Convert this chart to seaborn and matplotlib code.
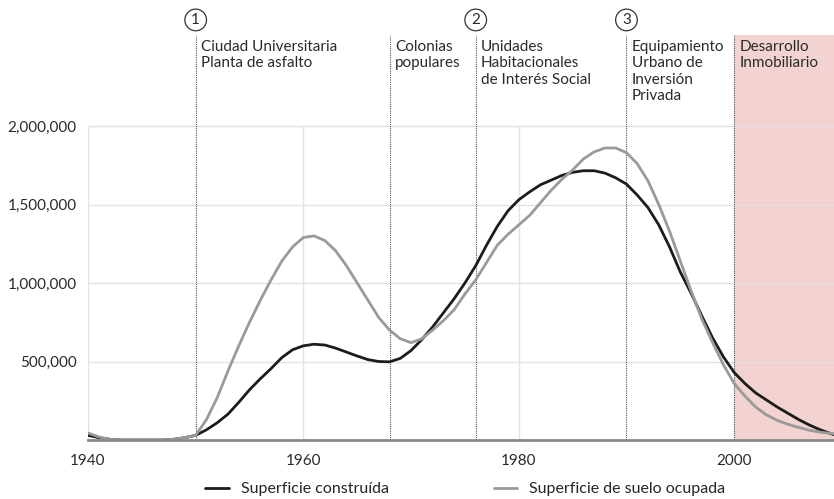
import numpy as np
import pandas as pd
import matplotlib
matplotlib.use("Agg")
import matplotlib.pyplot as plt
import seaborn as sns

years = list(range(1940, 2011))
construida = [30, 15, 5, 0, 0, 0, 0, 0, 5, 15,
              30, 65, 110, 165, 240, 320, 390, 455, 525, 575,
              600, 610, 605, 585, 560, 535, 512, 500, 498, 520,
              570, 640, 720, 810, 900, 1000, 1110, 1240, 1360, 1460,
              1530, 1580, 1625, 1655, 1685, 1705, 1715, 1715, 1700, 1670,
              1630, 1560, 1480, 1370, 1230, 1070, 935, 790, 650, 530,
              430, 360, 300, 255, 210, 170, 130, 95, 65, 40, 20]
suelo = [45, 20, 5, 0, 0, 0, 0, 0, 5, 15,
         30, 130, 270, 440, 600, 750, 890, 1020, 1140, 1230,
         1290, 1300, 1270, 1205, 1110, 1000, 890, 780, 700, 645,
         620, 645, 700, 760, 830, 930, 1020, 1130, 1240, 1310,
         1370, 1430, 1510, 1590, 1660, 1720, 1790, 1835, 1860, 1860,
         1830, 1760, 1650, 1500, 1330, 1140, 950, 770, 620, 480,
         360, 280, 210, 160, 125, 100, 80, 62, 50, 42, 35]

series_names = ["Superficie construída", "Superficie de suelo ocupada"]
event_years = [1950, 1968, 1976, 1990, 2000]
event_labels = ["Ciudad Universitaria\nPlanta de asfalto",
                "Colonias\npopulares",
                "Unidades\nHabitacionales\nde Interés Social",
                "Equipamiento\nUrbano de\nInversión\nPrivada",
                "Desarrollo\nInmobiliario"]
event_numbers = ["1", "", "2", "3", ""]
xticks = [1940, 1960, 1980, 2000]
yticks = [500000, 1000000, 1500000, 2000000]
ytick_labels = ["500,000", "1,000,000", "1,500,000", "2,000,000"]

df = pd.DataFrame({
    "year": years * 2,
    "value": [v * 1000 for v in construida] + [v * 1000 for v in suelo],
    "serie": [series_names[0]] * len(years) + [series_names[1]] * len(years),
})

sns.set_theme(style="white")
plt.rcParams["font.family"] = ["Lato", "DejaVu Sans"]

fig = plt.figure(figsize=(8.34, 4.99), dpi=100)
ax = fig.add_axes([0.1055, 0.1182, 0.8945, 0.8118])

XMAX = 2009.27
YMAX = 2580000

ax.axvspan(2000, 2012, color="#f3d2d2", zorder=0, lw=0)
ax.set_xlim(1940, XMAX)
ax.set_ylim(0, YMAX)

# grid
for yv in yticks:
    ax.axhline(yv, color="#e2e2e2", lw=1.0, zorder=1)
ax.vlines(xticks, 0, 2000000, color="#e2e2e2", lw=1.0, zorder=1)

# event lines
ax.vlines(event_years, 0, YMAX, color="#555555", lw=0.8,
          linestyles=(0, (1, 1)), zorder=2)

sns.lineplot(data=df, x="year", y="value", hue="serie",
             palette=["#1c1c1c", "#9a9a9a"], linewidth=2.0, ax=ax,
             zorder=3, legend=True)

for xe, lab, num in zip(event_years, event_labels, event_numbers):
    ax.text(xe + 0.5, 0.987, lab, transform=ax.get_xaxis_transform(),
            ha="left", va="top", fontsize=11, color="#2a2a2a",
            linespacing=1.2)
    if num:
        ax.text(xe, 1.037, num, transform=ax.get_xaxis_transform(),
                ha="center", va="center", fontsize=11, color="#2a2a2a",
                clip_on=False,
                bbox=dict(boxstyle="circle,pad=0.25", fc="white",
                          ec="#333333", lw=0.9))

ax.set_xticks(xticks)
ax.set_xticklabels([str(x) for x in xticks], fontsize=11, color="#2a2a2a")
ax.set_yticks(yticks)
ax.set_yticklabels(ytick_labels, fontsize=11, color="#2a2a2a")
ax.tick_params(axis="y", length=0, pad=8)
ax.tick_params(axis="x", length=0, pad=10)
ax.set_xlabel("")
ax.set_ylabel("")
for s in ["top", "right", "left"]:
    ax.spines[s].set_visible(False)
ax.spines["bottom"].set_color("#8a8a8a")
ax.spines["bottom"].set_linewidth(2.0)
ax.spines["bottom"].set_zorder(4)

handles, labels = ax.get_legend_handles_labels()
ax.legend_.remove()
fig.legend(handles, labels, loc="center", bbox_to_anchor=(0.558, 0.02),
           ncol=2, frameon=False, fontsize=11.5, handlelength=1.45,
           handletextpad=0.75, columnspacing=6.6)

fig.savefig("out.png", dpi=100)
